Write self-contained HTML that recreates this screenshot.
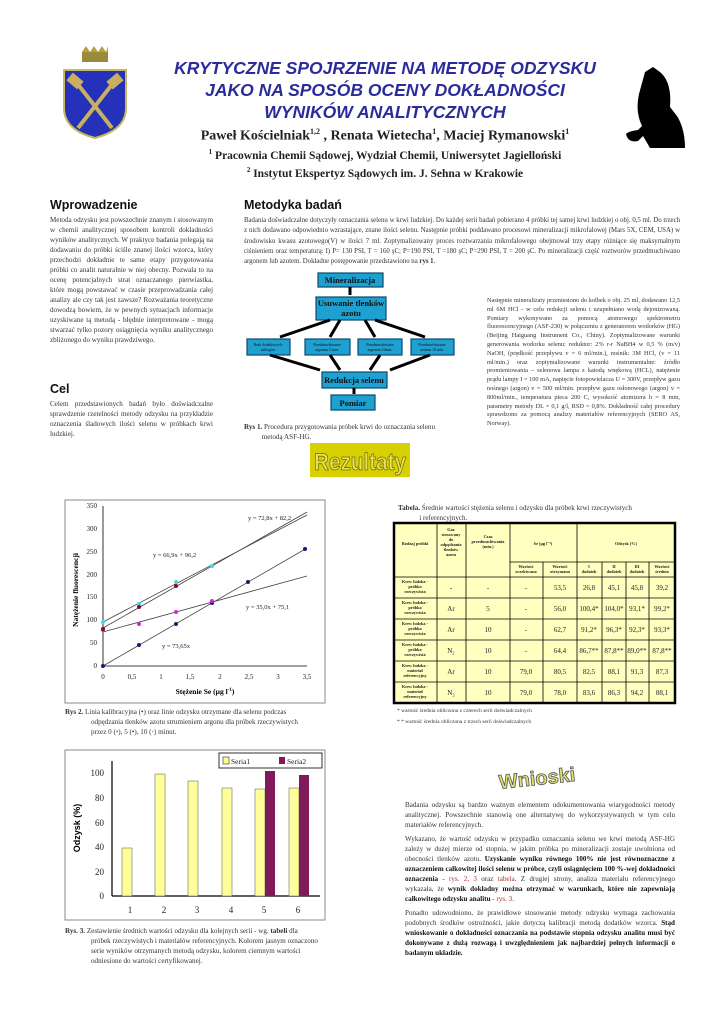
<!DOCTYPE html>
<html><head><meta charset="utf-8">
<style>
body{margin:0;width:724px;height:1024px;background:#fff;position:relative;overflow:hidden;font-family:"Liberation Serif",serif;color:#222}
.a{position:absolute}
.t{font-family:"Liberation Sans",sans-serif;font-weight:bold;font-style:italic;color:#2b2b9c;font-size:17.5px;text-align:center;width:500px;left:135px;line-height:22px}
.h{font-family:"Liberation Sans",sans-serif;font-weight:bold;font-size:12.5px;color:#111}
.p{font-size:7.1px;line-height:10px;text-align:justify;color:#333}
.bold{font-weight:bold;color:#111}
.red{color:#a33}
.nw{white-space:nowrap}
</style></head><body>
<svg class="a" style="left:0;top:0" width="724" height="1024">
 <g>
  <rect x="82" y="52" width="26" height="10" fill="#9a8a3a"/>
  <path d="M82 52 l4 -6 l4 6 l4 -6 l4 6 l4 -6 l4 6 l2 -6 v6z" fill="#b8a040"/>
  <path d="M64 70 h62 v38 q0 22 -31 30 q-31 -8 -31 -30z" fill="#2431b8" stroke="#c8b860" stroke-width="2"/>
  <line x1="76" y1="82" x2="112" y2="128" stroke="#c8b060" stroke-width="4"/>
  <line x1="114" y1="82" x2="78" y2="128" stroke="#c8b060" stroke-width="4"/>
  <rect x="68" y="76" width="14" height="10" fill="#c8b060" transform="rotate(40 75 81)"/>
  <rect x="108" y="76" width="14" height="10" fill="#c8b060" transform="rotate(-40 115 81)"/>
 </g>
 <path d="M645 72 l8 -5 l7 5 q12 10 10 35 l7 9 q8 13 8 32 h-35 q-4 -7 -7 -12 l-5 5 q-10 2 -12 -7 q3 -3 12 -4 l4 -4 q-7 -14 -3 -32z" fill="#000"/>
 <g fill="#1ea0d0" stroke="#0a4a70" stroke-width="1.2">
  <rect x="318" y="273" width="65" height="14"/>
  <rect x="316" y="297" width="70" height="23"/>
  <rect x="247" y="339" width="43" height="16"/>
  <rect x="305" y="339" width="45" height="16"/>
  <rect x="358" y="339" width="44" height="16"/>
  <rect x="411" y="339" width="43" height="16"/>
  <rect x="322" y="372" width="65" height="16"/>
  <rect x="331" y="395" width="44" height="15"/>
 </g>
 <g stroke="#000" stroke-width="3" fill="none">
  <line x1="350" y1="287" x2="350" y2="295"/>
  <line x1="330" y1="320" x2="280" y2="337"/>
  <line x1="340" y1="320" x2="330" y2="337"/>
  <line x1="365" y1="320" x2="375" y2="337"/>
  <line x1="375" y1="320" x2="425" y2="337"/>
  <line x1="270" y1="355" x2="320" y2="370"/>
  <line x1="330" y1="355" x2="340" y2="370"/>
  <line x1="380" y1="355" x2="370" y2="370"/>
  <line x1="430" y1="355" x2="390" y2="370"/>
  <line x1="354" y1="388" x2="354" y2="394"/>
 </g>
 <g font-family="Liberation Serif,serif" font-weight="bold" font-size="8.5" text-anchor="middle" fill="#111">
  <text x="350" y="283">Mineralizacja</text>
  <text x="351" y="306">Usuwanie tlenków</text>
  <text x="351" y="316">azotu</text>
  <text x="354" y="383">Redukcja selenu</text>
  <text x="353" y="406">Pomiar</text>
 </g>
 <g font-family="Liberation Serif,serif" font-size="3.8" text-anchor="middle" fill="#111">
  <text x="268" y="346">Brak dodatkowych</text><text x="268" y="351">zabiegów</text>
  <text x="327" y="346">Przedmuchiwanie</text><text x="327" y="351">argonem 5 min.</text>
  <text x="380" y="346">Przedmuchiwanie</text><text x="380" y="351">argonem 10min.</text>
  <text x="432" y="346">Przedmuchiwanie</text><text x="432" y="351">azotem 10 min.</text>
 </g>
 <rect x="310" y="443" width="100" height="34" fill="#d8d000"/>
 <text x="314" y="470" textLength="92" lengthAdjust="spacingAndGlyphs" font-family="Liberation Sans,sans-serif" font-size="24" font-weight="bold" fill="#e8e060" stroke="#707000" stroke-width="0.8">Rezultaty</text>
 <text x="537" y="785" text-anchor="middle" font-family="Liberation Sans,sans-serif" font-size="20" font-weight="bold" fill="#e0e070" stroke="#555" stroke-width="0.8" transform="rotate(-6 537 778)">Wnioski</text>

 <rect x="65" y="500" width="260" height="203" fill="none" stroke="#888" stroke-width="1"/>
 <g stroke="#000" stroke-width="0.8">
  <line x1="103" y1="506" x2="103" y2="666"/>
  <line x1="103" y1="666" x2="307" y2="666"/>
 </g>
 <g font-family="Liberation Serif,serif" font-size="7" fill="#222" text-anchor="end">
  <text x="97" y="508">350</text><text x="97" y="531">300</text><text x="97" y="554">250</text><text x="97" y="577">200</text><text x="97" y="599">150</text><text x="97" y="622">100</text><text x="97" y="645">50</text><text x="97" y="668">0</text>
 </g>
 <g font-family="Liberation Serif,serif" font-size="7" fill="#222" text-anchor="middle">
  <text x="103" y="679">0</text><text x="132" y="679">0,5</text><text x="161" y="679">1</text><text x="190" y="679">1,5</text><text x="220" y="679">2</text><text x="249" y="679">2,5</text><text x="278" y="679">3</text><text x="307" y="679">3,5</text>
 </g>
 <text x="205" y="694" text-anchor="middle" font-family="Liberation Serif,serif" font-size="7.5" font-weight="bold">Stężenie Se (µg l<tspan dy="-3" font-size="5">-1</tspan><tspan dy="3">)</tspan></text>
 <text transform="translate(78 590) rotate(-90)" text-anchor="middle" font-family="Liberation Serif,serif" font-size="7.5" font-weight="bold">Natężenie fluorescencji</text>
 <g stroke="#444" stroke-width="0.8">
  <line x1="103" y1="666" x2="307" y2="548"/>
  <line x1="103" y1="632" x2="307" y2="576"/>
  <line x1="103" y1="622" x2="307" y2="515"/>
  <line x1="103" y1="628" x2="307" y2="512"/>
 </g>
 <g fill="#1a1a70">
  <circle cx="103" cy="666" r="2"/><circle cx="139" cy="645" r="2"/><circle cx="176" cy="624" r="2"/><circle cx="212" cy="603" r="2"/><circle cx="248" cy="582" r="2"/><circle cx="305" cy="549" r="2"/>
 </g>
 <g fill="#e020e0"><circle cx="103" cy="630" r="2"/><circle cx="139" cy="624" r="2"/><circle cx="176" cy="612" r="2"/><circle cx="212" cy="601" r="2"/></g>
 <g fill="#40d8e8"><circle cx="103" cy="622" r="2"/><circle cx="139" cy="604" r="2"/><circle cx="176" cy="582" r="2"/><circle cx="212" cy="566" r="2"/></g>
 <g fill="#801020"><circle cx="103" cy="629" r="2"/><circle cx="139" cy="607" r="2"/><circle cx="176" cy="586" r="2"/></g>
 <g font-family="Liberation Serif,serif" font-size="6.5" fill="#222">
  <text x="248" y="520">y = 72,8x + 82,2</text>
  <text x="153" y="557">y = 66,9x + 96,2</text>
  <text x="246" y="609">y = 35,0x + 75,1</text>
  <text x="162" y="648">y = 73,65x</text>
 </g>

 <rect x="394" y="523" width="281" height="180" fill="#ffffc0" stroke="#000" stroke-width="2.5"/>
 <g stroke="#000" stroke-width="0.8">
  <line x1="437" y1="523" x2="437" y2="703"/><line x1="466" y1="523" x2="466" y2="703"/><line x1="510" y1="523" x2="510" y2="703"/>
  <line x1="543" y1="562" x2="543" y2="703"/><line x1="577" y1="523" x2="577" y2="703"/><line x1="602" y1="562" x2="602" y2="703"/>
  <line x1="626" y1="562" x2="626" y2="703"/><line x1="649" y1="562" x2="649" y2="703"/>
  <line x1="510" y1="562" x2="675" y2="562"/>
  <line x1="394" y1="577" x2="675" y2="577"/><line x1="394" y1="598" x2="675" y2="598"/><line x1="394" y1="619" x2="675" y2="619"/><line x1="394" y1="640" x2="675" y2="640"/><line x1="394" y1="661" x2="675" y2="661"/><line x1="394" y1="682" x2="675" y2="682"/>
 </g>
 <g font-family="Liberation Serif,serif" font-size="4.3" font-weight="bold" text-anchor="middle" fill="#222">
  <text x="415" y="545">Rodzaj próbki</text>
  <text x="451" y="531">Gaz</text><text x="451" y="536">stosowany</text><text x="451" y="541">do</text><text x="451" y="546">odpędzania</text><text x="451" y="551">tlenków</text><text x="451" y="556">azotu</text>
  <text x="488" y="538">Czas</text><text x="488" y="543">przedmuchiwania</text><text x="488" y="548">(min.)</text>
  <text x="543" y="545">Se (µg l⁻¹)</text><text x="626" y="545">Odzysk (%)</text>
  <text x="526" y="568">Wartość</text><text x="526" y="573">oczekiwana</text>
  <text x="560" y="568">Wartość</text><text x="560" y="573">otrzymana</text>
  <text x="589" y="568">I</text><text x="589" y="573">dodatek</text>
  <text x="614" y="568">II</text><text x="614" y="573">dodatek</text>
  <text x="637" y="568">III</text><text x="637" y="573">dodatek</text>
  <text x="662" y="568">Wartość</text><text x="662" y="573">średnia</text>
 </g>
 <g font-family="Liberation Serif,serif" font-size="4.3" font-weight="bold" text-anchor="middle" fill="#222">
  <text x="415" y="583">Krew ludzka -</text><text x="415" y="588">próbka</text><text x="415" y="593">rzeczywista</text>
  <text x="415" y="604">Krew ludzka -</text><text x="415" y="609">próbka</text><text x="415" y="614">rzeczywista</text>
  <text x="415" y="625">Krew ludzka -</text><text x="415" y="630">próbka</text><text x="415" y="635">rzeczywista</text>
  <text x="415" y="646">Krew ludzka -</text><text x="415" y="651">próbka</text><text x="415" y="656">rzeczywista</text>
  <text x="415" y="667">Krew ludzka -</text><text x="415" y="672">materiał</text><text x="415" y="677">referencyjny</text>
  <text x="415" y="688">Krew ludzka -</text><text x="415" y="693">materiał</text><text x="415" y="698">referencyjny</text>
 </g>
 <g font-family="Liberation Serif,serif" font-size="7" text-anchor="middle" fill="#222">
  <text x="451" y="590">-</text><text x="488" y="590">-</text><text x="526" y="590">-</text><text x="560" y="590">53,5</text><text x="589" y="590">26,8</text><text x="614" y="590">45,1</text><text x="637" y="590">45,8</text><text x="662" y="590">39,2</text>
  <text x="451" y="611">Ar</text><text x="488" y="611">5</text><text x="526" y="611">-</text><text x="560" y="611">56,0</text><text x="589" y="611">100,4*</text><text x="614" y="611">104,0*</text><text x="637" y="611">93,1*</text><text x="662" y="611">99,2*</text>
  <text x="451" y="632">Ar</text><text x="488" y="632">10</text><text x="526" y="632">-</text><text x="560" y="632">62,7</text><text x="589" y="632">91,2*</text><text x="614" y="632">96,3*</text><text x="637" y="632">92,3*</text><text x="662" y="632">93,3*</text>
  <text x="451" y="653">N₂</text><text x="488" y="653">10</text><text x="526" y="653">-</text><text x="560" y="653">64,4</text><text x="589" y="653">86,7**</text><text x="614" y="653">87,8**</text><text x="637" y="653">89,0**</text><text x="662" y="653">87,8**</text>
  <text x="451" y="674">Ar</text><text x="488" y="674">10</text><text x="526" y="674">79,0</text><text x="560" y="674">80,5</text><text x="589" y="674">82,5</text><text x="614" y="674">88,1</text><text x="637" y="674">91,3</text><text x="662" y="674">87,3</text>
  <text x="451" y="695">N₂</text><text x="488" y="695">10</text><text x="526" y="695">79,0</text><text x="560" y="695">78,0</text><text x="589" y="695">83,6</text><text x="614" y="695">86,3</text><text x="637" y="695">94,2</text><text x="662" y="695">88,1</text>
 </g>

 <rect x="65" y="750" width="260" height="170" fill="none" stroke="#888" stroke-width="1"/>
 <rect x="219" y="753" width="103" height="15" fill="#fff" stroke="#000" stroke-width="0.8"/>
 <rect x="223" y="757" width="6" height="7" fill="#ffff99" stroke="#000" stroke-width="0.5"/>
 <rect x="279" y="757" width="6" height="7" fill="#801a5a"/>
 <g font-family="Liberation Serif,serif" font-size="7.5" fill="#222"><text x="231" y="764">Seria1</text><text x="287" y="764">Seria2</text></g>
 <g stroke="#000" stroke-width="1.2">
  <line x1="112" y1="761" x2="112" y2="896"/>
  <line x1="112" y1="896" x2="320" y2="896"/>
 </g>
 <g font-family="Liberation Serif,serif" font-size="9" fill="#222" text-anchor="end">
  <text x="104" y="776">100</text><text x="104" y="801">80</text><text x="104" y="826">60</text><text x="104" y="850">40</text><text x="104" y="875">20</text><text x="104" y="899">0</text>
 </g>
 <g font-family="Liberation Serif,serif" font-size="9" fill="#222" text-anchor="middle">
  <text x="130" y="913">1</text><text x="164" y="913">2</text><text x="197" y="913">3</text><text x="231" y="913">4</text><text x="264" y="913">5</text><text x="298" y="913">6</text>
 </g>
 <text transform="translate(80 828) rotate(-90)" text-anchor="middle" font-family="Liberation Sans,sans-serif" font-size="9" font-weight="bold">Odzysk (%)</text>
 <g fill="#ffff99" stroke="#555" stroke-width="0.5">
  <rect x="122" y="848" width="10" height="48"/>
  <rect x="155" y="774" width="10" height="122"/>
  <rect x="188" y="781" width="10" height="115"/>
  <rect x="222" y="788" width="10" height="108"/>
  <rect x="255" y="789" width="10" height="107"/>
  <rect x="289" y="788" width="10" height="108"/>
 </g>
 <g fill="#801a5a"><rect x="265" y="771" width="10" height="125"/><rect x="299" y="775" width="10" height="121"/></g>
</svg>

<div class="a t" style="top:57px">KRYTYCZNE SPOJRZENIE NA METODĘ ODZYSKU<br>JAKO NA SPOSÓB OCENY DOKŁADNOŚCI<br>WYNIKÓW ANALITYCZNYCH</div>
<div class="a" style="left:135px;width:500px;top:127px;text-align:center;font-weight:bold;font-size:14px">Paweł Kościelniak<sup style="font-size:8px">1,2</sup> , Renata Wietecha<sup style="font-size:8px">1</sup>, Maciej Rymanowski<sup style="font-size:8px">1</sup></div>
<div class="a" style="left:135px;width:500px;top:148px;text-align:center;font-weight:bold;font-size:11.5px"><sup style="font-size:7px">1</sup> Pracownia Chemii Sądowej, Wydział Chemii, Uniwersytet Jagielloński</div>
<div class="a" style="left:135px;width:500px;top:166px;text-align:center;font-weight:bold;font-size:11.5px"><sup style="font-size:7px">2</sup> Instytut Ekspertyz Sądowych im. J. Sehna w Krakowie</div>

<div class="a h" style="left:50px;top:198px">Wprowadzenie</div>
<div class="a p" style="left:50px;top:215px;width:163px">Metoda odzysku jest powszechnie znanym i stosowanym w chemii analitycznej sposobem kontroli dokładności wyników analitycznych. W praktyce badania polegają na dodawaniu do próbki ściśle znanej ilości wzorca, który przechodzi dokładnie te same etapy przygotowania próbki co analit naturalnie w niej obecny. Pozwala to na ocenę potencjalnych strat oznaczanego pierwiastka, które mogą powstawać w czasie przeprowadzania całej analizy ale czy tak jest zawsze? Rozważania teoretyczne dowodzą bowiem, że w pewnych sytuacjach informacje uzyskiwane tą metodą - błędnie interpretowane - mogą stwarzać tylko pozory osiągnięcia wyniku analitycznego zbliżonego do wyniku prawdziwego.</div>
<div class="a h" style="left:50px;top:382px">Cel</div>
<div class="a p" style="left:50px;top:399px;width:163px">Celem przedstawionych badań było doświadczalne sprawdzenie rzetelności metody odzysku na przykładzie oznaczenia śladowych ilości selenu w próbkach krwi ludzkiej.</div>

<div class="a h" style="left:244px;top:198px">Metodyka badań</div>
<div class="a p" style="left:244px;top:216px;width:436px;line-height:10.3px;font-size:6.8px">Badania doświadczalne dotyczyły oznaczania selenu w krwi ludzkiej. Do każdej serii badań pobierano 4 próbki tej samej krwi ludzkiej o obj. 0,5 ml. Do trzech z nich dodawano odpowiednio wzrastające, znane ilości selenu. Następnie próbki poddawano procesowi mineralizacji mikrofalowej (Mars 5X, CEM, USA) w środowisku kwasu azotowego(V) w ilości 7 ml. Zoptymalizowany proces roztwarzania mikrofalowego obejmował trzy etapy różniące się maksymalnym ciśnieniem oraz temperaturą: I) P= 130 PSI, T = 160 şC; P=190 PSI, T =180 şC; P=290 PSI, T = 200 şC. Po mineralizacji część roztworów przedmuchiwano argonem lub azotem. Dokładne postępowanie przedstawiono na <b>rys 1</b>.</div>
<div class="a p" style="left:487px;top:297px;width:193px;line-height:8.8px;font-size:6.3px">Następnie mineralizaty przeniesiono do kolbek o obj. 25 ml, dodawano 12,5 ml 6M HCl - w celu redukcji selenu i uzupełniano wodą dejonizowaną. Pomiary wykonywano za pomocą atomowego spektrometru fluorescencyjnego (ASF-230) w połączeniu z generatorem wodorków (HG) (Beijing Haiguang Instrument Co., Chiny). Zoptymalizowane warunki generowania wodorku selenu: reduktor: 2% r-r NaBH4 w 0,5 % (m/v) NaOH, (prędkość przepływu v = 6 ml/min.), nośnik: 3M HCl, (v = 11 ml/min.) oraz zoptymalizowane warunki instrumentalne: źródło promieniowania – selenowa lampa z katodą wnękową (HCL), natężenie prądu lampy I = 100 mA, napięcie fotopowielacza U = 300V, przepływ gazu nośnego (argon) v = 500 ml/min. przepływ gazu osłonowego (argon) v = 800ml/min., temperatura pieca 200 C, wysokość atomizera h = 8 mm, parametry metody DL = 0,1 g/l, RSD = 0,8%. Dokładność całej procedury sprawdzono za pomocą analizy materiałów referencyjnych (SERO AS, Norway).</div>
<div class="a p nw" style="left:244px;top:422px;text-align:left"><b>Rys 1.</b> Procedura przygotowania próbek krwi do oznaczania selenu<br>&nbsp;&nbsp;&nbsp;&nbsp;&nbsp;&nbsp;&nbsp;&nbsp;&nbsp;&nbsp;metodą ASF-HG.</div>

<div class="a p nw" style="left:65px;top:707px;text-align:left"><b>Rys 2.</b> Linia kalibracyjna (<span style="color:#1a1a70">•</span>) oraz linie odzysku otrzymane dla selenu podczas<br><span style="padding-left:26px">odpędzania tlenków azotu strumieniem argonu dla próbek rzeczywistych</span><br><span style="padding-left:26px">przez 0 (<span style="color:#e020e0">•</span>), 5 (<span style="color:#801020">•</span>), 10 (<span style="color:#40d8e8">•</span>) minut.</span></div>

<div class="a p nw" style="left:398px;top:503px;text-align:left"><b>Tabela.</b> Średnie wartości stężenia selenu i odzysku dla próbek krwi rzeczywistych<br>&nbsp;&nbsp;&nbsp;&nbsp;&nbsp;&nbsp;&nbsp;&nbsp;&nbsp;&nbsp;&nbsp;&nbsp;i referencyjnych.</div>
<div class="a" style="left:397px;top:708px;font-size:5.5px;color:#333">* wartość średnia obliczona z czterech serii doświadczalnych</div>
<div class="a" style="left:397px;top:719px;font-size:5.5px;color:#333">* * wartość średnia obliczona z trzech serii doświadczalnych</div>

<div class="a p nw" style="left:65px;top:926px;text-align:left"><b>Rys. 3.</b> Zestawienie średnich wartości odzysku dla kolejnych serii - wg. <b>tabeli</b> dla<br><span style="padding-left:26px">próbek rzeczywistych i materiałów referencyjnych. Kolorem jasnym oznaczono</span><br><span style="padding-left:26px">serie wyników otrzymanych metodą odzysku, kolorem ciemnym wartości</span><br><span style="padding-left:26px">odniesione do wartości certyfikowanej.</span></div>

<div class="a p" style="left:405px;top:800px;width:270px">Badania odzysku są bardzo ważnym elementem udokumentowania wiarygodności metody analitycznej. Powszechnie stanowią one alternatywę do wykorzystywanych w tym celu materiałów referencyjnych.</div>
<div class="a p" style="left:405px;top:834px;width:270px">Wykazano, że wartość odzysku w przypadku oznaczania selenu we krwi metodą ASF-HG zależy w dużej mierze od stopnia, w jakim próbka po mineralizacji zostaje uwolniona od obecności tlenków azotu. <span class="bold">Uzyskanie wyniku równego 100% nie jest równoznaczne z oznaczeniem całkowitej ilości selenu w próbce, czyli osiągnięciem 100 %-wej dokładności oznaczenia</span> - <span class="red">rys. 2, 3</span> oraz <span class="red">tabela</span>. Z drugiej strony, analiza materiału referencyjnego wykazała, że <span class="bold">wynik dokładny można otrzymać w warunkach, które nie zapewniają całkowitego odzysku analitu</span> - <span class="red">rys. 3</span>.</div>
<div class="a p" style="left:405px;top:908px;width:270px">Ponadto udowodniono, że prawidłowe stosowanie metody odzysku wymaga zachowania podobnych środków ostrożności, jakie dotyczą kalibracji metodą dodatków wzorca. <span class="bold">Stąd wnioskowanie o dokładności oznaczania na podstawie stopnia odzysku analitu musi być dokonywane z dużą rozwagą i uwzględnieniem jak najbardziej pełnych informacji o badanym układzie.</span></div>
</body></html>
